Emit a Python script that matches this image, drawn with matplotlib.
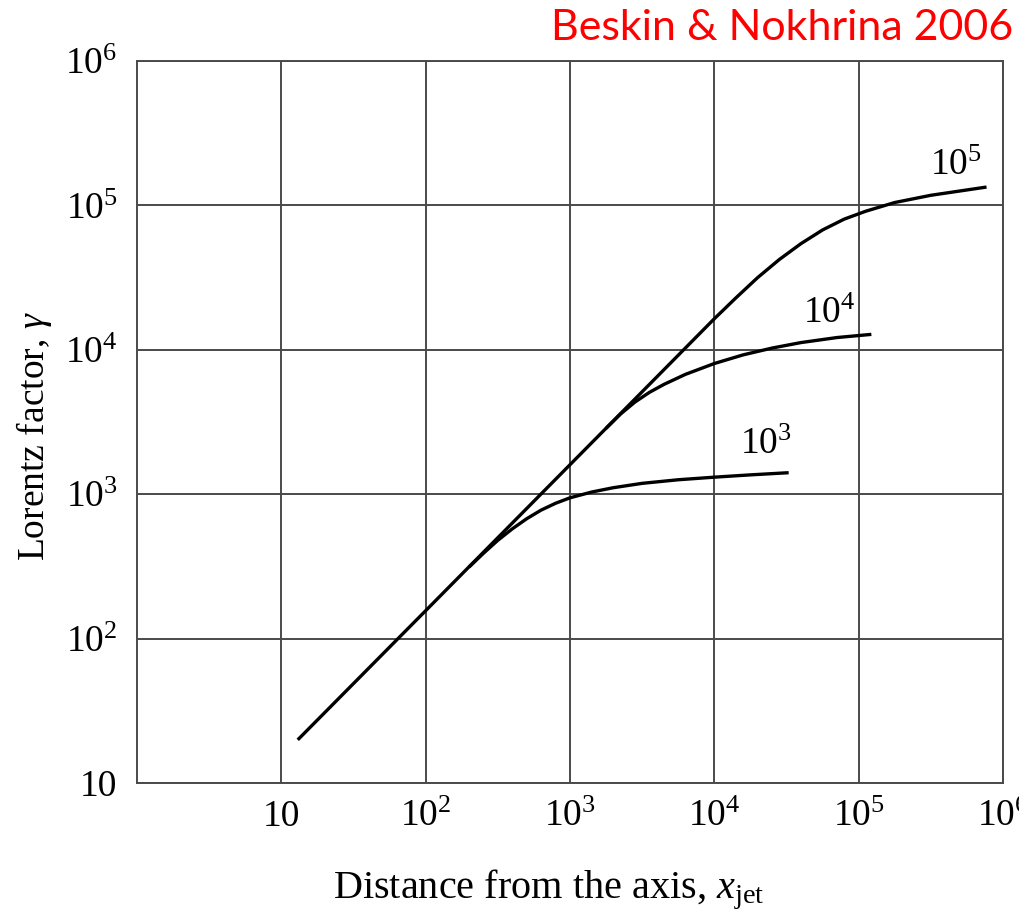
import matplotlib.pyplot as plt
from matplotlib.ticker import NullLocator

plt.rcParams['font.family'] = 'Liberation Serif'
plt.rcParams['mathtext.fontset'] = 'custom'
plt.rcParams['mathtext.rm'] = 'Liberation Serif'
plt.rcParams['mathtext.it'] = 'Liberation Serif:italic'

# Lorentz factor vs distance from the jet axis, one curve per gamma_max

# gamma_max = 1e5 (also the common linear part)
x_1e5 = [13, 100, 1000, 3162, 10000, 14125, 19953, 28184, 39811, 56234,
         79433, 112200, 177800, 316200, 769000]
g_1e5 = [19.9, 156, 1600, 5122, 16410, 22910, 31620, 42170, 54330, 67610,
         80350, 91200, 104700, 117500, 134000]

# gamma_max = 1e4
x_1e4 = [1778, 2239, 2818, 3548, 4467, 6310, 10000, 15849, 25119, 39811,
         70795, 122460]
g_1e4 = [2858, 3589, 4345, 5070, 5754, 6761, 8035, 9226, 10280, 11220,
         12160, 12790]

# gamma_max = 1e3
x_1e3 = [200, 251, 316, 398, 501, 631, 794, 1000, 1413, 1995, 3162, 5623,
         10000, 17783, 32730]
g_1e3 = [313, 389, 479, 575, 676, 776, 865, 944, 1035, 1109, 1189, 1259,
         1312, 1361, 1409]

curve_labels = [r'$10^5$', r'$10^4$', r'$10^3$']

x_ticks = [10, 1e2, 1e3, 1e4, 1e5, 1e6]
x_tick_labels = ['10', r'$10^2$', r'$10^3$', r'$10^4$', r'$10^5$', r'$10^6$']
y_ticks = [10, 1e2, 1e3, 1e4, 1e5, 1e6]
y_tick_labels = ['10', r'$10^2$', r'$10^3$', r'$10^4$', r'$10^5$', r'$10^6$']

fig = plt.figure(figsize=(10.19, 9.16), dpi=100)
ax = fig.add_axes([0.1344, 0.1452, 0.8499, 0.7882])
ax.set_xscale('log')
ax.set_yscale('log')
ax.set_xlim(1, 1e6)
ax.set_ylim(10, 1e6)

ax.set_xticks(x_ticks, x_tick_labels)
ax.set_yticks(y_ticks, y_tick_labels)
ax.xaxis.set_minor_locator(NullLocator())
ax.yaxis.set_minor_locator(NullLocator())
ax.tick_params(length=0, labelsize=27)
ax.tick_params(axis='x', pad=12)
ax.tick_params(axis='y', pad=14)

ax.grid(True, color='#4a4a4a', lw=1.4)
for s in ax.spines.values():
    s.set_color('#4a4a4a')
    s.set_linewidth(1.4)

for xs, gs in [(x_1e5, g_1e5), (x_1e4, g_1e4), (x_1e3, g_1e3)]:
    ax.plot(xs, gs, color='black', lw=2.4, solid_capstyle='butt',
            solid_joinstyle='round')

# curve labels
label_pos = [(0.9157, 0.842), (0.769, 0.637), (0.696, 0.456)]
for txt, (px, py) in zip(curve_labels, label_pos):
    ax.text(px, py, txt, transform=ax.transAxes, fontsize=27,
            ha='left', va='baseline')

fig.text(549 / 1019, 1 - 898 / 916, r'Distance from the axis, $x_{\mathrm{jet}}$',
         ha='center', va='baseline', fontsize=29)
fig.text(34 / 1019, 1 - 436 / 916, r'Lorentz factor, $\gamma$',
         ha='center', va='center', rotation=90, fontsize=27)

fig.text(1013 / 1019, 1 - 40 / 916, 'Beskin & Nokhrina 2006', ha='right',
         va='baseline', color='red', fontsize=31, family='Lato')

fig.savefig('out.png', dpi=100)
